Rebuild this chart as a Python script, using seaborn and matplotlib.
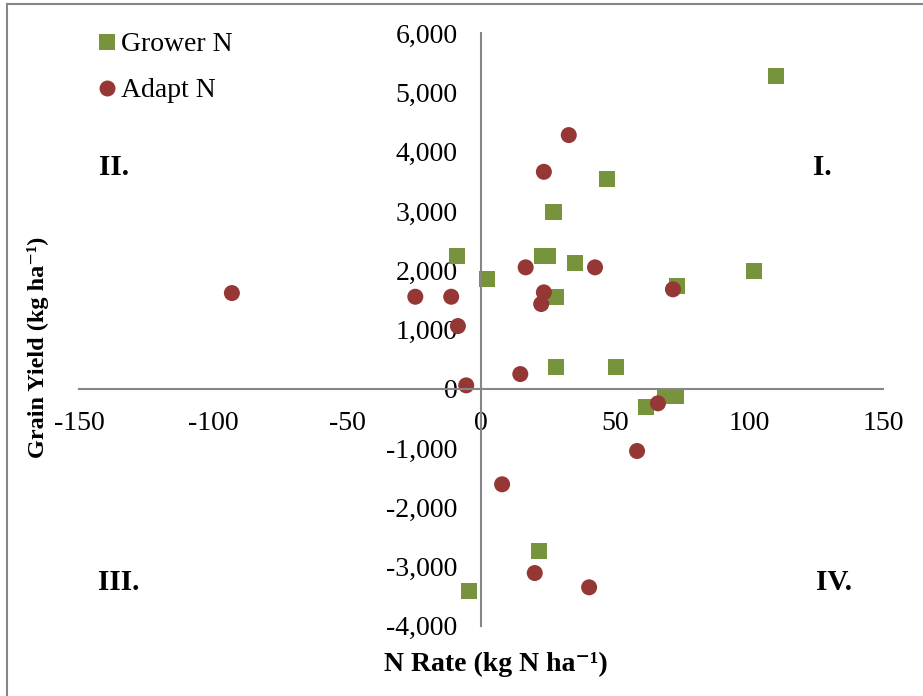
import pandas as pd
import matplotlib.pyplot as plt
import numpy as np
import seaborn as sns
from matplotlib.lines import Line2D
from matplotlib.patches import Rectangle
from matplotlib.ticker import FuncFormatter

# --- dados ---
grower_rate = [110, 47, 27, 27, -9, 2, 22.6, 25, 35, 28, 73, 102,
               28, 50.5, 61.7, 68.5, 72.8, 21.4, -4.4]
grower_yield = [5276, 3544, 2987, 2987, 2245, 1851, 2245, 2245, 2116, 1553, 1733, 1992,
                366, 366, -304, -123, -123, -2743, -3414]
adapt_rate = [32.7, 23.4, 16.6, 42.5, 23.4, 22.4, -24.6, -11.2, -8.7, 71.6,
              -93.1, -5.6, 14.6, 66.0, 58.2, 7.8, 20.0, 40.3]
adapt_yield = [4282, 3662, 2049, 2049, 1627, 1430, 1553, 1553, 1058, 1678,
               1615, 57, 248, -246, -1051, -1613, -3111, -3352]

x_ticks = [-150, -100, -50, 0, 50, 100, 150]
y_ticks = [-4000, -3000, -2000, -1000, 0, 1000, 2000, 3000, 4000, 5000, 6000]

quad_labels = ['I.', 'II.', 'III.', 'IV.']
quad_x = [127.5, -137.1, -135.2, 131.7]
quad_y = [3740, 3740, -3265, -3265]

cores = {'Grower N': '#77933C', 'Adapt N': '#953735'}
marcadores = {'Grower N': 's', 'Adapt N': 'o'}

df = pd.DataFrame({
    'rate': grower_rate + adapt_rate,
    'yield': grower_yield + adapt_yield,
    'trat': ['Grower N'] * len(grower_rate) + ['Adapt N'] * len(adapt_rate),
})

sns.set_style('white')
plt.rcParams['font.family'] = ['Liberation Serif', 'DejaVu Serif']
plt.rcParams['axes.unicode_minus'] = False
plt.rcParams['text.color'] = 'black'
plt.rcParams['axes.labelcolor'] = 'black'

fig = plt.figure(figsize=(9.23, 6.96), dpi=100)
ax = fig.add_axes([79.5 / 923, 1 - 625.7 / 696, 803.4 / 923, 592.4 / 696])

sns.scatterplot(data=df, x='rate', y='yield', hue='trat', style='trat',
                palette=cores, markers=marcadores, s=133, linewidth=0,
                legend=False, ax=ax)

ax.set_xlim(-150, 150)
ax.set_ylim(-4000, 6000)
ax.set_xticks(x_ticks)
ax.set_yticks(y_ticks)
ax.yaxis.set_major_formatter(FuncFormatter(lambda v, p: f'{v:,.0f}'))
ax.xaxis.set_major_formatter(FuncFormatter(lambda v, p: f'{v:.0f}'))

# eixos cruzando na origem
for lado in ['top', 'right']:
    ax.spines[lado].set_visible(False)
for lado in ['left', 'bottom']:
    ax.spines[lado].set_position(('data', 0))
    ax.spines[lado].set_color('#868686')
    ax.spines[lado].set_linewidth(1.5)
ax.tick_params(axis='both', direction='out', length=7, width=1.5,
               color='#868686', labelsize=20, labelcolor='black')
ax.tick_params(axis='y', pad=10)
ax.tick_params(axis='x', pad=9)
ax.patch.set_alpha(0)

ax.set_xlabel('N Rate (kg N ha\u207b\u00b9)', fontsize=20, fontweight='bold')
ax.xaxis.set_label_coords((496 - 79.5) / 803.4, (625.7 - 664) / 592.4)
ax.xaxis.label.set_va('center')
ax.set_ylabel('Grain Yield (kg ha\u207b\u00b9)', fontsize=17.5, fontweight='bold')
ax.yaxis.set_label_coords((38 - 79.5) / 803.4, (625.7 - 347) / 592.4)
ax.yaxis.label.set_va('center')

for txt, qx, qy in zip(quad_labels, quad_x, quad_y):
    ax.text(qx, qy, txt, fontsize=21, fontweight='bold', color='black',
            ha='center', va='center')

handles = [Line2D([], [], marker=marcadores[k], color=cores[k], linestyle='',
                  markersize=11.5, markeredgewidth=0) for k in cores]
fig.legend(handles, list(cores.keys()), loc='upper left',
           bbox_to_anchor=(98.6 / 923, 1 - 32 / 696), bbox_transform=fig.transFigure,
           frameon=False, fontsize=20, handlelength=0.6, handletextpad=0.2,
           borderpad=0, borderaxespad=0, labelspacing=0.74)

# moldura da area do grafico
fig.patches.append(Rectangle((7 / 923, -0.1), 1.2, 1.1 - 4 / 696, transform=fig.transFigure,
                             fill=False, edgecolor='#868686', linewidth=1.5))

fig.savefig('out.png', dpi=100)
